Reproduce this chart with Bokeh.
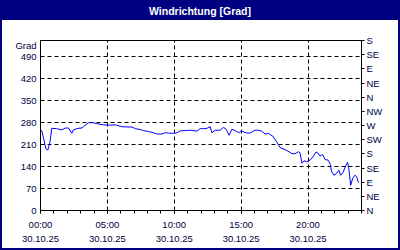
from bokeh.plotting import figure
from bokeh.models import Range1d, LinearAxis, FixedTicker, Div
from bokeh.layouts import column
from bokeh.embed import file_html
from bokeh.resources import INLINE

# ---- data ----
times = [0.00, 0.10, 0.25, 0.40, 0.55, 0.70, 0.84, 1.20, 1.60, 1.85, 2.10, 2.34, 2.46,
         2.80, 3.10, 3.20, 3.60, 3.95, 4.20, 4.70, 5.10, 5.60, 6.10, 6.84, 7.09, 7.46,
         7.69, 8.06, 8.43, 8.70, 9.08, 9.33, 9.57, 9.95, 10.20, 10.45, 10.82, 11.19,
         11.69, 11.94, 12.20, 12.44, 12.69, 12.81, 13.06, 13.43, 13.68, 13.88, 14.10,
         14.31, 14.55, 14.80, 15.05, 15.43, 15.67, 16.04, 16.27, 16.54, 16.79, 17.04,
         17.16, 17.39, 17.66, 17.91, 18.41, 18.78, 19.03, 19.28, 19.40, 19.55, 19.70,
         19.90, 20.15, 20.37, 20.60, 20.75, 20.90, 21.10, 21.27, 21.50, 21.64, 21.77,
         21.94, 22.14, 22.31, 22.44, 22.63, 22.84, 22.96, 23.06, 23.19, 23.34, 23.51,
         23.63, 23.78]
values = [255, 253, 225, 196, 192, 215, 261, 260, 256, 262, 262, 245, 256,
          261, 262, 266, 279, 279, 276, 272, 271, 272, 266, 265, 260, 257,
          254, 251, 247, 243, 243, 247, 246, 245, 247, 253, 254, 255,
          252, 260, 260, 261, 266, 247, 255, 255, 264, 258, 239,
          258, 254, 247, 252, 246, 246, 255, 255, 252, 243, 245,
          242, 235, 218, 200, 191, 181, 180, 187, 183, 150, 158,
          155, 160, 170, 186, 182, 173, 178, 162, 160, 150, 123,
          112, 118, 128, 112, 122, 144, 153, 130, 80, 102, 112,
          108, 88]

left_ticks = [0, 70, 140, 210, 280, 350, 420, 490]
unit_pos = 524
unit_text = "Grad"
dir_ticks = [0, 45, 90, 135, 180, 225, 270, 315, 360, 405, 450, 495, 540]
dir_labels = ["N", "NE", "E", "SE", "S", "SW", "W", "NW", "N", "NE", "E", "SE", "S"]
hour_ticks = [0, 5, 10, 15, 20]
hour_minor = list(range(0, 25))
time_labels = ["00:00", "05:00", "10:00", "15:00", "20:00"]
date_labels = ["30.10.25", "30.10.25", "30.10.25", "30.10.25", "30.10.25"]
title_text = "Windrichtung [Grad]"

NAVY = "#000080"
TXT = "#000040"
FONT = "Liberation Sans"
FS = "9.5px"

p = figure(width=396, height=228, x_range=Range1d(0, 24), y_range=Range1d(0, 540),
           output_backend="svg", toolbar_location=None, margin=0,
           min_border_left=38, min_border_right=37, min_border_top=20, min_border_bottom=38)
p.background_fill_color = "white"
p.border_fill_color = "white"
p.outline_line_color = "black"
p.outline_line_width = 1

p.line(times, values, line_color="#0000ff", line_width=1)

# bottom time axis
xa = p.xaxis[0]
xa.ticker = FixedTicker(ticks=hour_ticks, minor_ticks=hour_minor)
xa.major_label_overrides = {t: l for t, l in zip(hour_ticks, time_labels)}
xa.axis_line_color = "black"
xa.major_tick_line_color = "black"
xa.minor_tick_line_color = "black"
xa.major_tick_in = 0
xa.major_tick_out = 3
xa.minor_tick_in = 0
xa.minor_tick_out = 3
xa.major_label_standoff = 5
xa.major_label_text_font = FONT
xa.major_label_text_font_size = FS
xa.major_label_text_color = TXT

# bottom date axis
da = LinearAxis(ticker=FixedTicker(ticks=hour_ticks, minor_ticks=[]),
                major_label_overrides={t: l for t, l in zip(hour_ticks, date_labels)})
da.axis_line_color = None
da.major_tick_line_color = None
da.minor_tick_line_color = None
da.major_tick_in = 0
da.major_tick_out = 0
da.minor_tick_out = 0
da.major_label_standoff = 3
da.major_label_text_font = FONT
da.major_label_text_font_size = FS
da.major_label_text_color = TXT
p.add_layout(da, "below")

# left axis (values + unit label at the top)
ya = p.yaxis[0]
ya.ticker = FixedTicker(ticks=left_ticks + [unit_pos], minor_ticks=[])
ya.major_label_overrides = {unit_pos: unit_text}
ya.axis_line_color = "black"
ya.major_tick_in = 0
ya.major_tick_out = 0
ya.minor_tick_line_color = None
ya.major_tick_line_color = None
ya.major_label_standoff = 4
ya.major_label_text_font = FONT
ya.major_label_text_font_size = FS
ya.major_label_text_color = TXT

# right axis with compass directions
ra = LinearAxis(ticker=FixedTicker(ticks=dir_ticks, minor_ticks=[]),
                major_label_overrides={t: l for t, l in zip(dir_ticks, dir_labels)})
ra.axis_line_color = "black"
ra.major_tick_line_color = "black"
ra.major_tick_in = 0
ra.major_tick_out = 3
ra.minor_tick_line_color = None
ra.major_label_standoff = 2
ra.major_label_text_font = FONT
ra.major_label_text_font_size = FS
ra.major_label_text_color = TXT
p.add_layout(ra, "right")

# grids
p.xgrid.grid_line_color = "black"
p.xgrid.grid_line_dash = "4 3"
p.xgrid.grid_line_width = 1
p.ygrid.ticker = FixedTicker(ticks=left_ticks, minor_ticks=[])
p.ygrid.grid_line_color = "black"
p.ygrid.grid_line_dash = "4 3"
p.ygrid.grid_line_width = 1

title = Div(text=title_text, width=396, height=18, margin=0,
            styles={"background-color": NAVY, "color": "white",
                    "font-family": FONT, "font-weight": "bold",
                    "font-size": "10.5px", "text-align": "center",
                    "line-height": "18px", "padding": "0px"})

layout = column(title, p, spacing=0, margin=0,
                styles={"border": "2px solid " + NAVY, "background-color": "white"})

open("out.html", "w").write(file_html(layout, INLINE))
